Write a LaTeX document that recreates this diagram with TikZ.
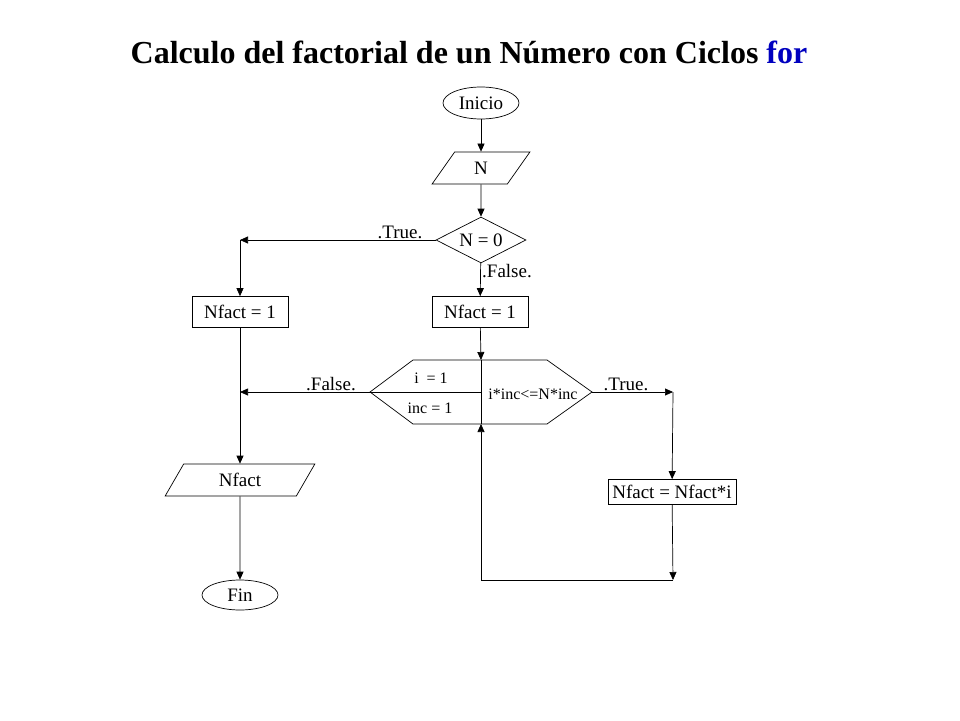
\documentclass[tikz,border=0pt]{standalone}
\usepackage{fontspec}
\setmainfont{Liberation Serif}
\usetikzlibrary{shapes.geometric,arrows.meta}

\begin{document}
\begin{tikzpicture}[
      x = 1pt, y = -1pt,
      every node/.style = {font = \fontsize{19}{21}\selectfont},
      term/.style = {ellipse, draw, minimum width = 76pt, minimum height = 32pt, inner sep = 0pt},
      io/.style = {trapezium, trapezium left angle = 65, trapezium right angle = 115,
        trapezium stretches = true, draw, minimum height = 32pt, inner sep = 1pt},
      proc/.style = {rectangle, draw, minimum height = 31pt, inner sep = 2pt},
      cond/.style = {diamond, draw, aspect = 2, inner sep = 0pt},
      lbl/.style = {inner sep = 1pt},
      every path/.style = {line width = .7pt},
      flow/.style = {-{Triangle[length = 8pt, width = 7pt]}}
      ]
    \useasboundingbox (0,0) rectangle (960,720);
    \node (title) at (469,52) {\fontsize{32}{36}\selectfont\bfseries Calculo del factorial de un N\'umero con Ciclos \textcolor{blue!75!black}{for}};
    \node[term] (inicio) at (481,103) {Inicio};
    \node[io, minimum width = 98pt] (leer) at (481,168) {N};
    \node[cond, minimum width = 90pt, minimum height = 46pt] (cero) at (481,240) {N = 0};
    \node[proc, minimum width = 96pt] (uno) at (240,312) {Nfact = 1};
    \node[proc, minimum width = 96pt] (ini) at (480,312) {Nfact = 1};
    \node[io, minimum width = 150pt] (out) at (240,480) {Nfact};
    \node[term, minimum height = 30pt] (fin) at (240,595) {Fin};
    \node[proc, minimum width = 128pt, minimum height = 25pt] (mult) at (672,492) {Nfact = Nfact*i};
    % hexagon of the for loop
    \coordinate (hl) at (370,392);
    \coordinate (hr) at (592,392);
    \coordinate (ht) at (481,360);
    \coordinate (hb) at (481,424);
    \draw (hl) -- (413,360) -- (547,360) -- (hr) -- (547,424) -- (413,424) -- cycle;
    \draw (ht) -- (hb);
    \draw (hl) -- (481,392);
    \node[lbl, font = \fontsize{16}{18}\selectfont] (vi) at (431,378) {i \ = 1};
    \node[lbl, font = \fontsize{16}{18}\selectfont] (vinc) at (430,408) {inc = 1};
    \node[lbl, font = \fontsize{16}{18}\selectfont] (test) at (533,394) {i*inc<=N*inc};
    \coordinate (tl) at (240,240);
    \coordinate (fl) at (240,392);
    \coordinate (tr) at (673,392);
    \coordinate (lb) at (673,580);
    \coordinate (lc) at (481,580);
    \draw[flow] (inicio) -- (leer);
    \draw[flow] (leer) -- (cero);
    \draw[flow] (cero.west) -- (tl);
    \draw[flow] (tl) -- (uno);
    \draw[flow] (cero) -- (ini);
    \draw[flow] (ini) -- (ht);
    \draw[flow] (hl) -- (fl);
    \draw[flow] (uno) -- (out);
    \draw[flow] (out) -- (fin);
    \draw[flow] (hr) -- (tr);
    \draw[flow] (tr) -- (mult);
    \draw[flow] (mult) -- (lb);
    \draw (lb) -- (lc);
    \draw[flow] (lc) -- (hb);
    \node[lbl] (ct) at (400,232) {.True.};
    \node[lbl] (cf) at (507,271) {.False.};
    \node[lbl] (hf) at (331,384) {.False.};
    \node[lbl] (ht2) at (626,384) {.True.};
  \end{tikzpicture}
\end{document}
